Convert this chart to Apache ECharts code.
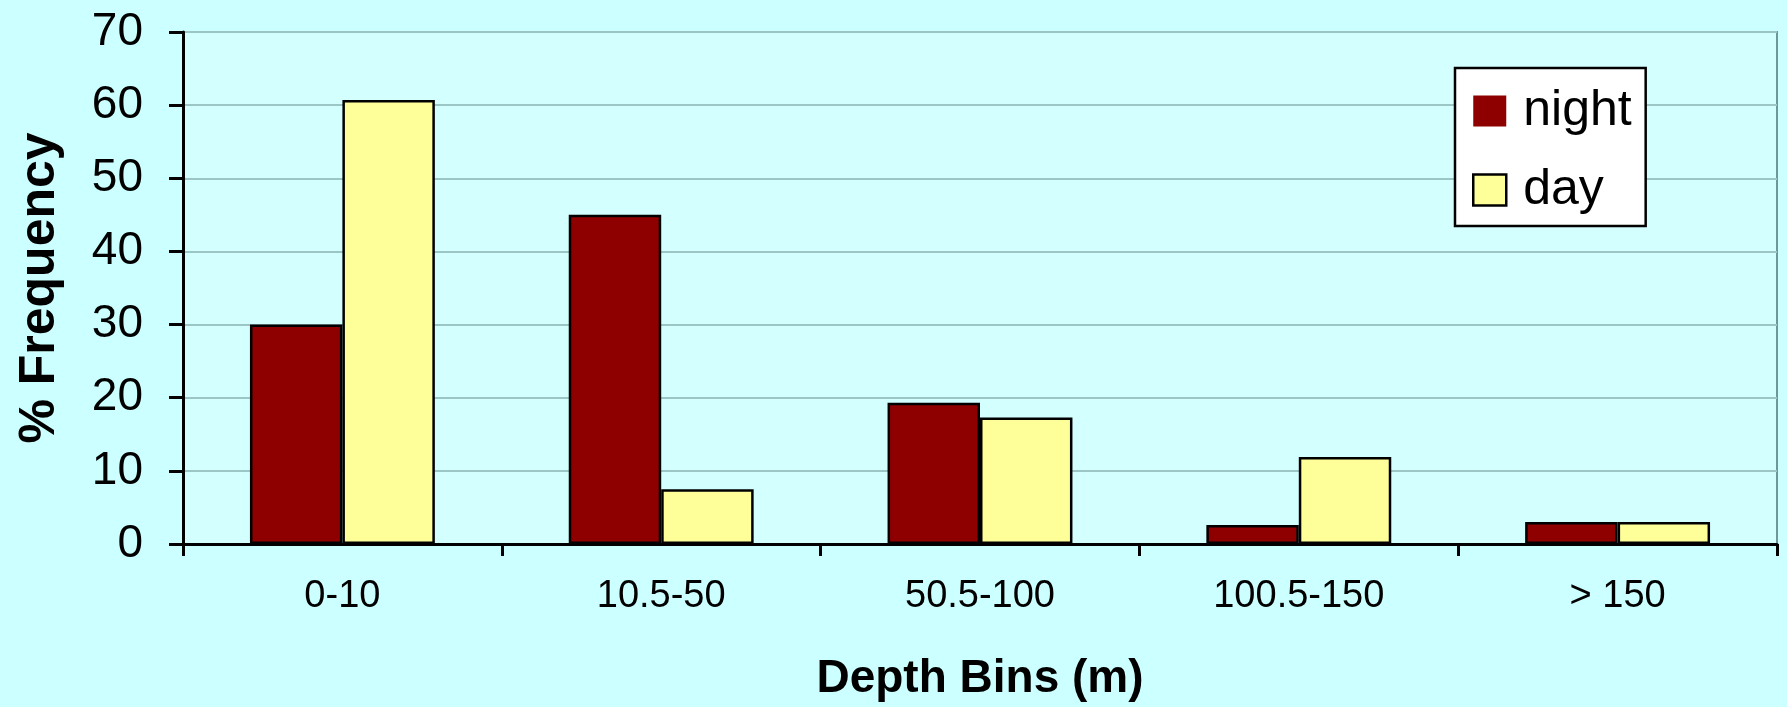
<!DOCTYPE html>
<html>
<head>
<meta charset="utf-8">
<script src="https://cdn.jsdelivr.net/npm/echarts@6/dist/echarts.min.js"></script>
<style>
html,body{margin:0;padding:0;background:#CCFFFF;}
#c{width:1787px;height:707px;}
</style>
</head>
<body>
<div id="c"></div>
<script>
const categories = ['0-10', '10.5-50', '50.5-100', '100.5-150', '> 150'];
const nightValues = [30, 45, 19.3, 2.6, 3.0];
const dayValues = [60.7, 7.5, 17.3, 11.9, 3.0];
const yTicks = [0, 10, 20, 30, 40, 50, 60, 70];

const chart = echarts.init(document.getElementById('c'), null, {renderer: 'canvas'});
const font = 'Liberation Sans, Arial, sans-serif';
chart.setOption({
  backgroundColor: '#CCFFFF',
  animation: false,
  grid: {
    left: 183, right: 10, top: 32, bottom: 163,
    show: true, backgroundColor: '#D3FFFF', borderColor: '#6E9898', borderWidth: 2
  },
  legend: {
    orient: 'vertical',
    left: 1455, top: 68,
    padding: [18, 14, 11, 17],
    itemWidth: 33, itemHeight: 31,
    itemGap: 29,
    backgroundColor: '#FFFFFF',
    borderColor: '#000000', borderWidth: 2.5,
    icon: 'rect',
    textStyle: {fontFamily: font, fontSize: 50, lineHeight: 50, color: '#000', padding: [0, 0, 0, 12]},
    data: [
      {name: 'night', itemStyle: {borderColor: '#000', borderWidth: 0}},
      {name: 'day', itemStyle: {borderColor: '#000', borderWidth: 2.5}}
    ]
  },
  xAxis: {
    type: 'category',
    data: categories,
    name: 'Depth Bins (m)',
    nameLocation: 'middle',
    nameGap: 112,
    nameTextStyle: {fontFamily: font, fontSize: 46, fontWeight: 'bold', color: '#000'},
    axisLine: {lineStyle: {color: '#000', width: 3}},
    axisTick: {show: true, length: 12, lineStyle: {color: '#000', width: 3}},
    axisLabel: {fontFamily: font, fontSize: 38, color: '#000', margin: 34},
    splitLine: {show: false}
  },
  yAxis: {
    type: 'value',
    min: yTicks[0], max: yTicks[yTicks.length - 1], interval: 10,
    name: '% Frequency',
    nameLocation: 'middle',
    nameGap: 118,
    nameRotate: 90,
    nameTextStyle: {fontFamily: font, fontSize: 50, fontWeight: 'bold', color: '#000'},
    axisLine: {show: true, lineStyle: {color: '#000', width: 3}},
    axisTick: {show: true, length: 14, lineStyle: {color: '#000', width: 3}},
    axisLabel: {fontFamily: font, fontSize: 46, color: '#000', margin: 40},
    splitLine: {show: true, lineStyle: {color: '#9CC6C6', width: 2}}
  },
  series: [
    {
      name: 'night', type: 'bar', data: nightValues,
      barGap: '0%', barCategoryGap: '42%',
      itemStyle: {color: '#8E0000', borderColor: '#000', borderWidth: 2.5}
    },
    {
      name: 'day', type: 'bar', data: dayValues,
      barGap: '0%', barCategoryGap: '42%',
      itemStyle: {color: '#FFFF99', borderColor: '#000', borderWidth: 2.5}
    }
  ]
});
</script>
</body>
</html>
